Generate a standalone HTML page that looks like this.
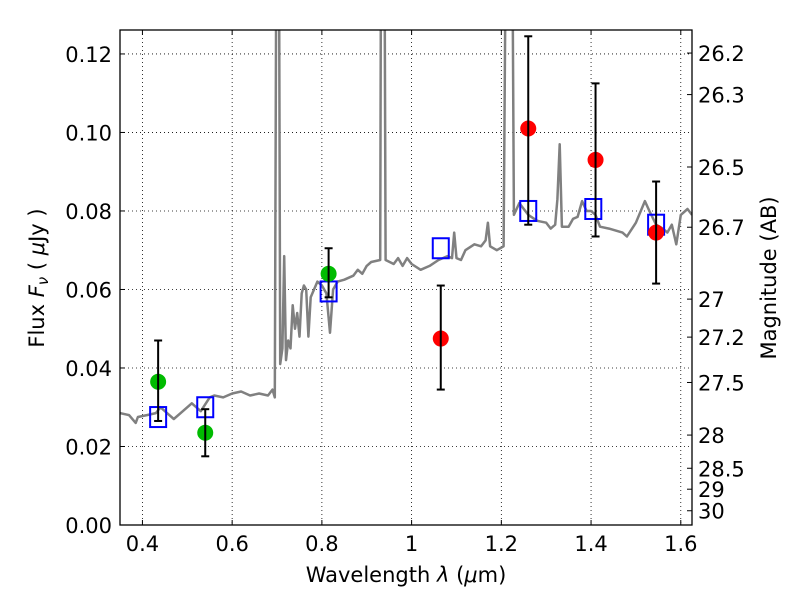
<!DOCTYPE html>
<html><head><meta charset="utf-8"><style>
body{margin:0;background:#fff;}
svg{display:block;font-family:"DejaVu Sans","Liberation Sans",sans-serif;}
</style></head><body>
<svg id="chart" width="800" height="600" viewBox="0 0 800 600" xmlns="http://www.w3.org/2000/svg"></svg>
<script>
const xTicks=[0.4,0.6,0.8,1.0,1.2,1.4,1.6];
const xTickLabels=["0.4","0.6","0.8","1","1.2","1.4","1.6"];
const yTicks=[0,0.02,0.04,0.06,0.08,0.10,0.12];
const yTickLabels=["0.00","0.02","0.04","0.06","0.08","0.10","0.12"];
const magTicks=[26.2,26.3,26.5,26.7,27,27.2,27.5,28,28.5,29,30];
const magTickLabels=["26.2","26.3","26.5","26.7","27","27.2","27.5","28","28.5","29","30"];
const specLam=[0.35,0.37,0.385,0.39,0.41,0.43,0.44,0.46,0.47,0.49,0.51,0.53,0.55,0.56,0.58,0.60,0.62,0.64,0.66,0.68,0.69,0.695,0.700,0.703,0.707,0.712,0.716,0.72,0.725,0.73,0.735,0.74,0.745,0.75,0.755,0.76,0.765,0.77,0.775,0.79,0.80,0.81,0.818,0.825,0.835,0.85,0.87,0.88,0.89,0.90,0.91,0.93,0.933,0.938,0.942,0.96,0.97,0.98,0.99,1.0,1.02,1.04,1.06,1.08,1.09,1.095,1.10,1.11,1.12,1.14,1.155,1.165,1.17,1.175,1.19,1.205,1.213,1.222,1.228,1.24,1.26,1.28,1.30,1.31,1.32,1.325,1.33,1.335,1.35,1.36,1.37,1.38,1.39,1.40,1.41,1.42,1.44,1.47,1.48,1.50,1.52,1.53,1.545,1.56,1.57,1.58,1.59,1.60,1.615,1.625];
const specFlux=[0.0285,0.028,0.026,0.0275,0.028,0.0285,0.030,0.028,0.027,0.029,0.031,0.029,0.0325,0.033,0.0325,0.0335,0.034,0.033,0.0335,0.033,0.0345,0.0325,0.2,0.2,0.041,0.045,0.0685,0.042,0.047,0.045,0.056,0.05,0.054,0.048,0.059,0.061,0.06,0.048,0.058,0.062,0.061,0.059,0.049,0.06,0.062,0.0625,0.0635,0.065,0.064,0.066,0.067,0.0675,0.2,0.2,0.0675,0.0665,0.068,0.066,0.068,0.0665,0.065,0.066,0.0675,0.0685,0.068,0.0745,0.068,0.0675,0.070,0.0715,0.071,0.0725,0.077,0.071,0.070,0.071,0.2,0.2,0.079,0.082,0.079,0.0775,0.077,0.0755,0.0765,0.083,0.097,0.076,0.076,0.078,0.0785,0.0825,0.080,0.080,0.079,0.076,0.0755,0.0745,0.0735,0.077,0.0825,0.080,0.0765,0.0755,0.0745,0.0765,0.0715,0.079,0.0805,0.079];
const greenLam=[0.435,0.54,0.815];
const greenFlux=[0.0365,0.0235,0.064];
const greenLo=[0.0265,0.0175,0.058];
const greenHi=[0.047,0.0295,0.0705];
const redLam=[1.065,1.26,1.41,1.545];
const redFlux=[0.0475,0.101,0.093,0.0745];
const redLo=[0.0345,0.0765,0.0735,0.0615];
const redHi=[0.061,0.1245,0.1125,0.0875];
const modelLam=[0.435,0.54,0.815,1.065,1.26,1.405,1.545];
const modelFlux=[0.0275,0.030,0.0595,0.0705,0.080,0.0805,0.0765];

const L=120,R=692,T=30,B=525,X0=0.35,X1=1.625,Y0=0,Y1=0.1261;
const sx=v=>L+(v-X0)/(X1-X0)*(R-L);
const sy=v=>B-(v-Y0)/(Y1-Y0)*(B-T);
const magToFlux=m=>Math.pow(10,(23.9-m)/2.5);
const svg=document.getElementById('chart');
const NS="http://www.w3.org/2000/svg";
function mk(tag,attrs,parent){const e=document.createElementNS(NS,tag);for(const k in attrs)e.setAttribute(k,attrs[k]);(parent||svg).appendChild(e);return e;}
const defs=mk('defs',{});const cp=mk('clipPath',{id:'clip'},defs);mk('rect',{x:L,y:T,width:R-L,height:B-T},cp);

xTicks.forEach((t,i)=>{
  const g=mk('line',{x1:sx(t),x2:sx(t),y1:T,y2:B,stroke:'#000','stroke-width':0.8,'stroke-dasharray':'1,3'});
  
  
  [[B,B-5],[T,T+5]].forEach(p=>{const tk=mk('line',{x1:sx(t),x2:sx(t),y1:p[0],y2:p[1],stroke:'#000','stroke-width':1});
  
  });
  const tx=mk('text',{x:sx(t),y:B+26,'font-size':21,'text-anchor':'middle'});tx.textContent=xTickLabels[i];
  
  
});
yTicks.forEach((t,i)=>{
  const g=mk('line',{x1:L,x2:R,y1:sy(t),y2:sy(t),stroke:'#000','stroke-width':0.8,'stroke-dasharray':'1,3'});
  
  
  const tk=mk('line',{x1:L,x2:L+5,y1:sy(t),y2:sy(t),stroke:'#000','stroke-width':1});
  
  
  const tx=mk('text',{x:L-8,y:sy(t)+8,'font-size':21,'text-anchor':'end'});tx.textContent=yTickLabels[i];
  
  
});
magTicks.forEach((m,i)=>{
  const y=sy(magToFlux(m));
  const tk=mk('line',{x1:R,x2:R-5,y1:y,y2:y,stroke:'#000','stroke-width':1});
  
  
  const tx=mk('text',{x:R+6,y:y+8,'font-size':21});tx.textContent=magTickLabels[i];
  
  
});

const pts=specLam.map((l,i)=>sx(l).toFixed(1)+','+sy(specFlux[i]).toFixed(1)).join(' ');
const sp=mk('polyline',{points:pts,fill:'none',stroke:'#808080','stroke-width':2.5,'clip-path':'url(#clip)','stroke-linejoin':'round'});



modelLam.forEach((l,i)=>{
  const s=mk('rect',{x:sx(l)-8,y:sy(modelFlux[i])-10,width:16,height:20,fill:'none',stroke:'#0000ff','stroke-width':2});
  
  
});
function errs(lam,lo,hi){lam.forEach((l,i)=>{
  const x=sx(l);
  const e=mk('line',{x1:x,x2:x,y1:sy(lo[i]),y2:sy(hi[i]),stroke:'#000','stroke-width':2});
  
  
  [lo[i],hi[i]].forEach(v=>{const c=mk('line',{x1:x-4,x2:x+4,y1:sy(v),y2:sy(v),stroke:'#000','stroke-width':2});
  
  });
});}
function dots(lam,fl,col,name){lam.forEach((l,i)=>{
  const c=mk('circle',{cx:sx(l),cy:sy(fl[i]),r:8,fill:col});
  
  
});}
dots(greenLam,greenFlux,'#00bb00','optical-point');
dots(redLam,redFlux,'#ff0000','nir-point');
errs(greenLam,greenLo,greenHi);
errs(redLam,redLo,redHi);

const fr=mk('rect',{x:L,y:T,width:R-L,height:B-T,fill:'none',stroke:'#000','stroke-width':1.3});



const xl=mk('text',{x:(L+R)/2,y:582,'font-size':21,'text-anchor':'middle'});xl.innerHTML='Wavelength  <tspan font-style="italic">λ</tspan> (<tspan font-style="italic">μ</tspan>m)';


const yl=mk('text',{x:0,y:0,'font-size':21,'text-anchor':'middle',transform:'translate(44,278) rotate(-90)'});yl.innerHTML='Flux  <tspan font-style="italic">F</tspan><tspan font-style="italic" font-size="15" dy="4">ν</tspan><tspan dy="-4">  (  </tspan><tspan font-style="italic">μ</tspan>Jy )';


const ml=mk('text',{x:0,y:0,'font-size':21,'text-anchor':'middle',transform:'translate(776,278) rotate(-90)'});ml.textContent='Magnitude (AB)';


</script>
</body></html>
